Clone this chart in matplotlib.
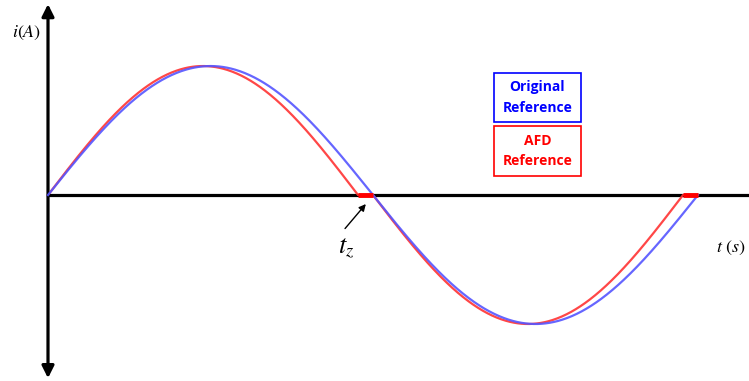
import numpy as np
import matplotlib
matplotlib.use("Agg")
from matplotlib import pyplot as plt
from matplotlib.patches import Rectangle

# waveform parameters (ms, per-unit)
period = 20.0
t_z = 0.46
amplitude = 1.0

legend_labels = ["Original\nReference", "AFD\nReference"]
legend_colors = ["#0000ff", "#ff0000"]

# original reference: plain sine over one period
t = np.linspace(0, period, 800)
i_orig = amplitude * np.sin(2 * np.pi * t / period)

# AFD reference: each half cycle is shortened by t_z and held at zero
half = period / 2
t_half = np.linspace(0, half - t_z, 400)
t_afd = np.concatenate([t_half, [half], half + t_half, [period]])
i_afd = np.concatenate([
    amplitude * np.sin(np.pi * t_half / (half - t_z)), [0.0],
    -amplitude * np.sin(np.pi * t_half / (half - t_z)), [0.0],
])

plt.rcParams['mathtext.fontset'] = 'stix'

fig = plt.figure(figsize=(7.49, 3.81), dpi=100)
ax = fig.add_axes([0, 0, 1, 1])
ax.set_xlim(-1.477, 21.57)
ax.set_ylim(-1.442, 1.512)
ax.axis("off")

# time axis and current axis
ax.plot([0, 21.57], [0, 0], color="black", lw=2.3, zorder=1)
ax.annotate("", xy=(0, 1.48), xytext=(0, -1.42),
            arrowprops=dict(arrowstyle="<|-|>", color="black", lw=2.3,
                            mutation_scale=18, shrinkA=0, shrinkB=0))

ax.plot(t, i_orig, color="#5555ff", lw=1.6, alpha=0.9, zorder=3)
ax.plot(t_afd, i_afd, color="#ff3333", lw=1.6, alpha=0.9, zorder=2)

# zero-current intervals
for t0 in (half - t_z, period - t_z):
    ax.plot([t0, t0 + t_z], [0, 0], color="#ff0000", lw=3.5,
            solid_capstyle="butt", zorder=4)

ax.text(-0.2, 1.26, r"$i(A)$", fontsize=13, ha="right", va="center")
ax.text(20.55, -0.41, r"$t\ (s)$", fontsize=13, ha="left", va="center")
ax.text(9.17, -0.40, r"$t_z$", fontsize=19, ha="center", va="center")
ax.annotate("", xy=(9.78, -0.07), xytext=(9.14, -0.26),
            arrowprops=dict(arrowstyle="-|>", color="black", lw=1,
                            mutation_scale=10, shrinkA=0, shrinkB=0))

# legend boxes
boxes = [(494, 73, 87, 49), (494, 126, 87, 50)]
W, H = 749, 381
for (x, y, w, h), label, c in zip(boxes, legend_labels, legend_colors):
    fig.patches.append(Rectangle((x / W, 1 - (y + h) / H), w / W, h / H,
                                 transform=fig.transFigure, fill=False,
                                 edgecolor=c, lw=1.2))
    fig.text((x + w / 2) / W, 1 - (y + h / 2) / H, label, color=c,
             fontsize=10, fontweight="bold", family="Open Sans",
             ha="center", va="center", linespacing=1.55)

fig.savefig("out.png", dpi=100)
